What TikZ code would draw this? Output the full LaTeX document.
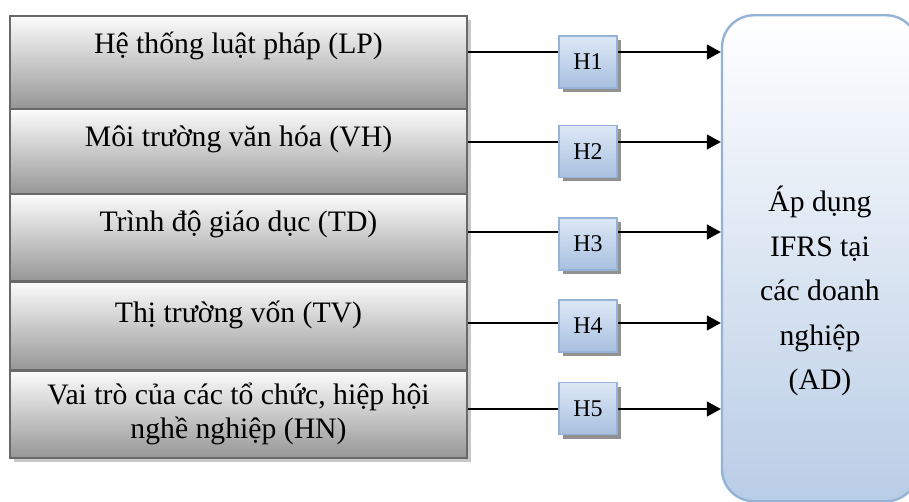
\documentclass[tikz,border=0pt]{standalone}
\usepackage{fontspec}
\setmainfont{Liberation Serif}
\usetikzlibrary{arrows.meta,shadows}
\definecolor{lborder}{RGB}{105,105,105}
\definecolor{lbottom}{RGB}{150,150,150}
\definecolor{ltop}{RGB}{252,252,252}
\definecolor{lshadow}{RGB}{200,200,200}
\definecolor{adborder}{RGB}{149,179,215}
\definecolor{adbottom}{RGB}{185,205,230}
\definecolor{hborder}{RGB}{150,178,214}
\definecolor{htop}{RGB}{222,232,246}
\definecolor{hbottom}{RGB}{168,192,224}
\definecolor{hshadow}{RGB}{145,145,145}
\begin{document}
\begin{tikzpicture}[x=1pt,y=-1pt,
  lbox/.style={draw=lborder, line width=2.6pt, top color=ltop, bottom color=lbottom,
    minimum width=457pt, inner sep=0pt,
    drop shadow={shadow xshift=3.5pt, shadow yshift=-4pt, fill=lshadow, opacity=1}},
  ltext/.style={font=\fontsize{29.7}{34}\selectfont, align=center, inner sep=0pt},
  adbox/.style={draw=adborder, line width=2.4pt, top color=white, bottom color=adbottom,
    rounded corners=32pt, minimum width=196pt, minimum height=486pt, inner sep=0pt},
  adtext/.style={font=\fontsize{29.7}{44.5}\selectfont, align=center, inner sep=0pt},
  hbox/.style={draw=hborder, line width=1.5pt, top color=htop, bottom color=hbottom,
    minimum width=58pt, minimum height=52pt, inner sep=0pt,
    font=\fontsize{24}{28}\selectfont,
    drop shadow={shadow xshift=4pt, shadow yshift=-4pt, fill=hshadow, opacity=1}},
  conn/.style={line width=1.5pt, black},
  arr/.style={conn, -{Triangle[length=14pt,width=15pt]}}
]
\path[use as bounding box, clip] (0,0) rectangle (909,502);

% left boxes
\node[lbox, minimum height=93pt] (L1) at (238.5,62.5) {};
\node[lbox, minimum height=85pt] (L2) at (238.5,151.5) {};
\node[lbox, minimum height=87.5pt] (L3) at (238.5,237.75) {};
\node[lbox, minimum height=89pt] (L4) at (238.5,326) {};
\node[lbox, minimum height=87.5pt] (L5) at (238.5,414.25) {};

\node[ltext, anchor=base] (T1) at (238.5,54) {Hệ thống luật pháp (LP)};
\node[ltext, anchor=base] (T2) at (238.5,147) {Môi trường văn hóa (VH)};
\node[ltext, anchor=base] (T3) at (238.5,232) {Trình độ giáo dục (TD)};
\node[ltext, anchor=base] (T4) at (238.5,322) {Thị trường vốn (TV)};
\node[ltext] (T5) at (238.5,414) {Vai trò của các tổ chức, hiệp hội\\nghề nghiệp (HN)};

% right box
\node[adbox] (AD) at (820,258.25) {};
\node[adtext] (ADT) at (820,291) {Áp dụng\\IFRS tại\\các doanh\\nghiệp\\(AD)};

% H boxes
\node[hbox] (H1) at (588,62) {H1};
\node[hbox] (H2) at (588,151.5) {H2};
\node[hbox] (H3) at (588,244) {H3};
\node[hbox] (H4) at (588,326) {H4};
\node[hbox] (H5) at (588,408.5) {H5};

% line levels
\coordinate (y1) at (0,52);
\coordinate (y2) at (0,142);
\coordinate (y3) at (0,232);
\coordinate (y4) at (0,323);
\coordinate (y5) at (0,409);

\foreach \i in {1,...,5}{
  \draw[conn] (L\i.east |- y\i) -- (H\i.west |- y\i);
  \draw[arr] (H\i.east |- y\i) -- (AD.west |- y\i);
}
\end{tikzpicture}
\end{document}
